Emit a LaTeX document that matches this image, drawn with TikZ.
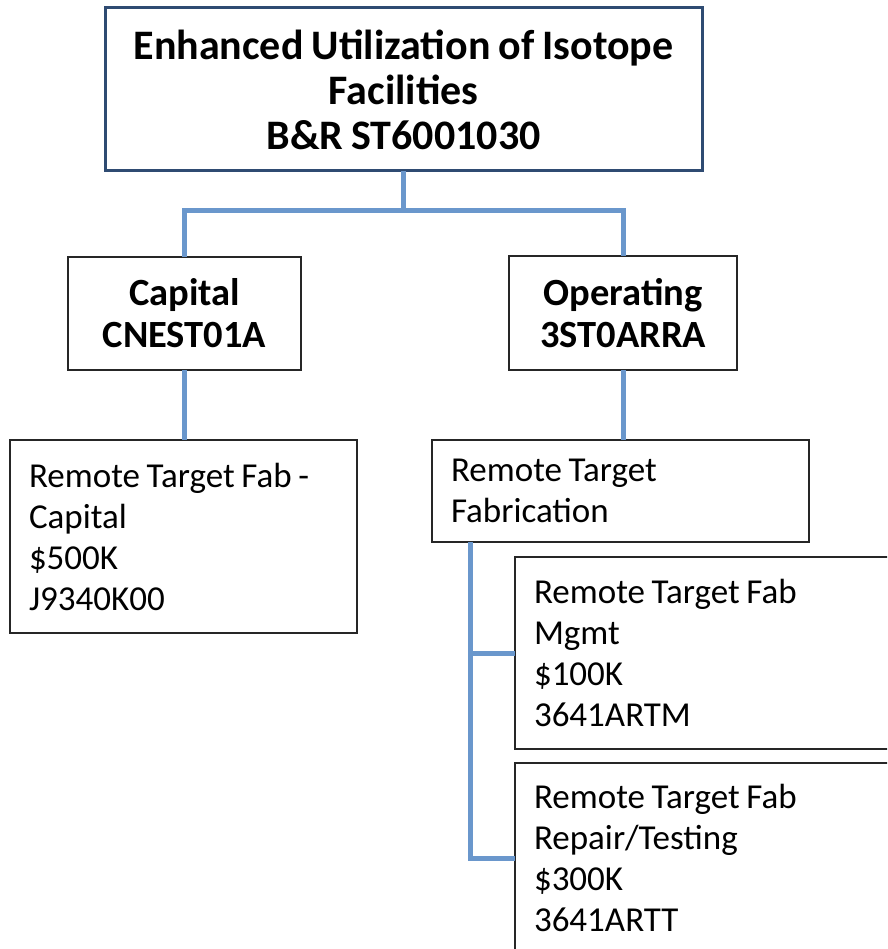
\documentclass[tikz,border=0pt]{standalone}
\usepackage{fontspec}
\setmainfont{Carlito}[WordSpace=0.85]
\definecolor{linkblue}{HTML}{6A97CC}
\definecolor{headblue}{HTML}{2F4B72}

\begin{document}
\begin{tikzpicture}[x=1pt,y=-1pt,
  head node/.style={draw=headblue,line width=3pt,fill=white,align=center,anchor=north west,inner sep=0pt,outer sep=0pt,font=\bfseries\fontsize{42}{45}\selectfont},
  fund node/.style={draw=black!85,line width=2pt,fill=white,align=center,anchor=north west,inner sep=0pt,outer sep=0pt,font=\bfseries\fontsize{38.5}{42}\selectfont},
  task node/.style={draw=black!85,line width=2pt,fill=white,align=flush left,anchor=north west,inner xsep=19pt,inner ysep=0pt,outer sep=0pt,font=\fontsize{35}{41}\selectfont},
  link/.style={draw=linkblue,line width=5pt}]

  \clip (0,0) rectangle (887,949);
  \fill[white] (0,0) rectangle (887,949);

  \node[head node,minimum width=597pt,minimum height=163pt] (top) at (105,8)
    {Enhanced Utilization of Isotope\\ Facilities\\ B\&R ST6001030};
  \node[fund node,minimum width=233pt,minimum height=113pt] (cap) at (68,257) {Capital\\ CNEST01A};
  \node[fund node,minimum width=228pt,minimum height=114pt] (op) at (509,256) {Operating\\ 3ST0ARRA};

  \node[task node,text width=309pt,minimum height=193pt] (lbox) at (10,440)
    {Remote Target Fab -\\ Capital\\ \$500K\\ J9340K00};
  \node[task node,text width=339pt,minimum height=102pt] (fab) at (432,440)
    {Remote Target\\ Fabrication};
  \node[task node,text width=362pt,minimum height=192pt] (mgmt) at (515,557)
    {Remote Target Fab\\ Mgmt\\ \$100K\\ 3641ARTM};
  \node[task node,text width=362pt,minimum height=190pt] (rep) at (515,763)
    {Remote Target Fab\\ Repair/Testing\\ \$300K\\ 3641ARTT};

  % blue tree connectors
  \draw[link] (top.south) -- ++(0,40) coordinate (fork) -| (cap.north);
  \draw[link] (fork) -| (op.north);
  \draw[link] (cap.south) -- (cap.south |- lbox.north);
  \draw[link] (op.south) -- (op.south |- fab.north);
  \coordinate (rail) at ([xshift=38pt]fab.south west);
  \draw[link] (rail) |- (mgmt.west);
  \draw[link] (rail) |- (rep.west);
\end{tikzpicture}
\end{document}
